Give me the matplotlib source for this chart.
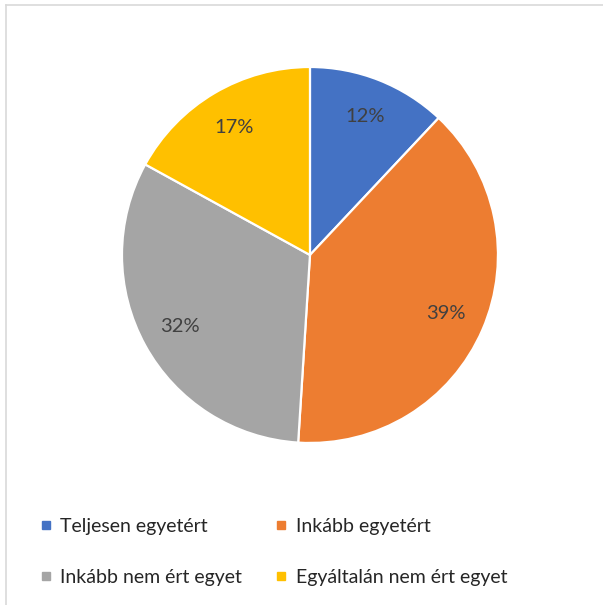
import matplotlib
matplotlib.use("Agg")
import matplotlib.pyplot as plt
from matplotlib.lines import Line2D

categories = ["Teljesen egyetért", "Inkább egyetért", "Inkább nem ért egyet", "Egyáltalán nem ért egyet"]
shares = [12, 39, 32, 17]
colors = ["#4472C4", "#ED7D31", "#A5A5A5", "#FFC000"]

plt.rcParams["font.family"] = ["Lato", "DejaVu Sans"]

fig = plt.figure(figsize=(6.03, 6.05), dpi=100)
fig.patch.set_facecolor("white")

# chart-area frame
fig.add_artist(Line2D([6 / 603, 6 / 603], [0, 1 - 5 / 605], transform=fig.transFigure,
                      color="#d9d9d9", lw=1.2))
fig.add_artist(Line2D([6 / 603, 1], [1 - 5 / 605, 1 - 5 / 605], transform=fig.transFigure,
                      color="#d9d9d9", lw=1.2))

ax = fig.add_axes([0.2023, 0.2678, 0.6235, 0.6215])
wedges, texts, autotexts = ax.pie(
    shares, colors=colors, startangle=90, counterclock=False,
    autopct=lambda p: f"{p:.0f}%", pctdistance=0.79,
    wedgeprops=dict(edgecolor="white", linewidth=1.6),
    textprops=dict(color="#404040", fontsize=14.5),
)
ax.set_xlim(-1, 1)
ax.set_ylim(-1, 1)
ax.set_aspect("equal")
ax.axis("off")

# legend laid out row by row
order = [0, 2, 1, 3]
handles = [Line2D([], [], marker="s", linestyle="none", markersize=6,
                  markerfacecolor=colors[i], markeredgecolor=colors[i]) for i in order]
labels = [categories[i] for i in order]
fig.legend(handles, labels, ncol=2, loc="center left",
           bbox_to_anchor=(41 / 603, 1 - 552 / 605), frameon=False,
           fontsize=14, labelcolor="#262626", handlelength=0.5,
           handletextpad=0.5, columnspacing=1.75, labelspacing=1.75,
           borderaxespad=0, borderpad=0)

fig.savefig("out.png", dpi=100, facecolor="white")
